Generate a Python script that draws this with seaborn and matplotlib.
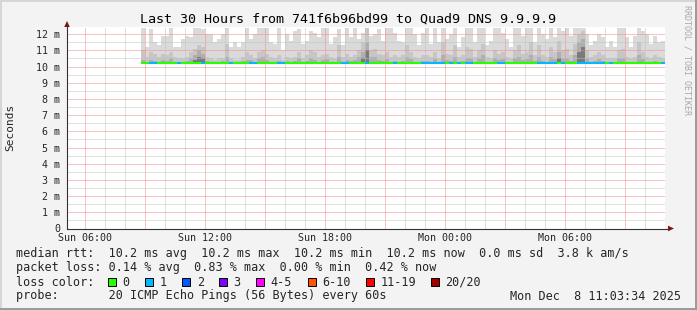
import matplotlib
matplotlib.use("Agg")
import matplotlib.pyplot as plt
from matplotlib.patches import Rectangle, Polygon
from matplotlib.lines import Line2D
import numpy as np
import pandas as pd
import seaborn as sns

# ---------------- data ----------------
title = "Last 30 Hours from 741f6b96bd99 to Quad9 DNS 9.9.9.9"
first_bin_hour = 8.8      # hours after Sun 00:00 of the first 12-minute bin
bin_hours = 0.2           # 12-minute consolidation
x_tick_hours = [6, 12, 18, 24, 30]
x_tick_labels = ["Sun 06:00", "Sun 12:00", "Sun 18:00", "Mon 00:00", "Mon 06:00"]
y_tick_ms = list(range(13))
y_tick_labels = ["0"] + [f"{v} m" for v in range(1, 13)]

# smoke layer tops (ms): outermost (lightest) to innermost (darkest)
top1 = [12.4, 11.2, 12.3, 11.5, 11.3, 11.9, 11.9, 12.4, 11.2, 11.2,
        11.7, 11.9, 11.8, 12.4, 12.4, 12.3, 12.0, 12.0, 11.5, 11.7,
        12.0, 12.4, 11.2, 11.5, 11.2, 11.5, 12.4, 11.7, 12.0, 12.4,
        12.4, 12.4, 11.5, 11.4, 12.4, 11.0, 12.0, 11.6, 12.2, 12.3,
        11.4, 11.6, 12.2, 12.1, 11.8, 12.4, 12.4, 11.4, 11.8, 12.3,
        11.3, 12.4, 11.8, 12.4, 11.7, 12.1, 12.4, 11.9, 12.0, 12.3,
        11.6, 12.4, 12.4, 12.1, 11.6, 11.5, 12.4, 12.4, 12.0, 11.3,
        12.1, 12.4, 11.4, 12.4, 11.5, 12.4, 11.7, 12.0, 12.4, 11.2,
        11.8, 12.4, 12.4, 11.5, 12.4, 12.4, 11.3, 11.6, 12.4, 12.4,
        12.1, 11.7, 11.2, 12.4, 12.4, 11.9, 12.4, 12.4, 11.5, 12.4,
        12.0, 11.7, 12.4, 11.8, 12.4, 12.2, 12.4, 11.9, 12.4, 12.4,
        12.4, 12.0, 11.3, 11.6, 12.0, 11.8, 11.2, 11.6, 11.2, 12.4,
        12.4, 11.8, 11.2, 11.9, 12.4, 12.2, 12.0, 11.4, 11.9, 11.5,
        11.6]
top2 = [11.0, 10.6, 10.9, 10.8, 10.6, 10.8, 10.7, 10.9, 10.6, 10.5,
        10.5, 10.6, 10.9, 11.1, 11.3, 11.2, 10.6, 10.5, 10.4, 10.5,
        10.5, 11.4, 10.5, 10.4, 10.4, 10.6, 10.9, 10.7, 10.5, 10.9,
        11.0, 10.8, 10.6, 10.5, 10.7, 10.4, 10.6, 10.5, 10.6, 10.9,
        10.5, 10.7, 11.0, 10.9, 10.6, 10.7, 10.8, 10.6, 10.5, 11.3,
        10.6, 10.8, 10.6, 10.7, 11.0, 11.5, 12.4, 11.0, 11.1, 10.8,
        10.7, 10.9, 10.6, 10.7, 10.6, 10.7, 11.3, 10.9, 10.6, 10.5,
        10.7, 10.7, 10.6, 10.9, 10.5, 11.5, 10.8, 10.7, 11.3, 10.6,
        10.7, 11.2, 11.1, 10.6, 11.0, 11.4, 10.6, 10.5, 11.0, 10.8,
        10.9, 10.6, 10.5, 11.0, 11.3, 10.8, 10.9, 11.5, 10.7, 11.3,
        10.7, 10.6, 11.2, 10.9, 11.6, 11.0, 11.1, 10.7, 11.4, 12.0,
        12.2, 11.0, 10.6, 10.7, 10.9, 10.7, 10.5, 10.5, 10.5, 11.0,
        11.1, 10.6, 10.5, 10.6, 11.5, 10.9, 10.6, 10.5, 10.7, 10.6,
        10.5]
top3 = [10.4, 10.3, 10.4, 10.35, 10.3, 10.4, 10.35, 10.5, 10.3, 10.3,
        10.3, 10.35, 10.5, 10.7, 11.0, 10.8, 10.35, 10.3, 10.3, 10.3,
        10.35, 10.6, 10.3, 10.3, 10.3, 10.35, 10.4, 10.4, 10.3, 10.5,
        10.6, 10.4, 10.3, 10.3, 10.35, 10.3, 10.35, 10.3, 10.35, 10.5,
        10.3, 10.35, 10.5, 10.4, 10.3, 10.4, 10.45, 10.3, 10.3, 10.6,
        10.3, 10.4, 10.35, 10.4, 10.6, 10.9, 11.5, 10.6, 10.6, 10.4,
        10.35, 10.45, 10.3, 10.35, 10.3, 10.35, 10.6, 10.45, 10.3, 10.3,
        10.35, 10.35, 10.3, 10.45, 10.3, 10.7, 10.4, 10.35, 10.6, 10.3,
        10.35, 10.5, 10.5, 10.3, 10.5, 10.7, 10.3, 10.3, 10.5, 10.4,
        10.45, 10.3, 10.3, 10.5, 10.6, 10.4, 10.45, 10.7, 10.35, 10.6,
        10.35, 10.3, 10.6, 10.45, 10.9, 10.5, 10.5, 10.35, 10.7, 11.5,
        11.7, 10.5, 10.3, 10.35, 10.45, 10.35, 10.3, 10.3, 10.3, 10.5,
        10.55, 10.3, 10.3, 10.3, 10.7, 10.45, 10.3, 10.3, 10.35, 10.3,
        10.3]
top4 = [10.2, 10.2, 10.2, 10.2, 10.2, 10.2, 10.2, 10.2, 10.2, 10.2,
        10.2, 10.2, 10.2, 10.4, 10.6, 10.5, 10.2, 10.2, 10.2, 10.2,
        10.2, 10.3, 10.2, 10.2, 10.2, 10.2, 10.2, 10.2, 10.2, 10.2,
        10.2, 10.2, 10.2, 10.2, 10.2, 10.2, 10.2, 10.2, 10.2, 10.2,
        10.2, 10.2, 10.2, 10.2, 10.2, 10.2, 10.2, 10.2, 10.2, 10.2,
        10.2, 10.2, 10.2, 10.2, 10.2, 10.5, 11.0, 10.3, 10.2, 10.2,
        10.2, 10.2, 10.2, 10.2, 10.2, 10.2, 10.2, 10.2, 10.2, 10.2,
        10.2, 10.2, 10.2, 10.2, 10.2, 10.3, 10.2, 10.2, 10.2, 10.2,
        10.2, 10.2, 10.2, 10.2, 10.2, 10.3, 10.2, 10.2, 10.2, 10.2,
        10.2, 10.2, 10.2, 10.2, 10.2, 10.2, 10.2, 10.3, 10.2, 10.2,
        10.2, 10.2, 10.2, 10.2, 10.5, 10.2, 10.2, 10.2, 10.2, 10.9,
        11.2, 10.3, 10.2, 10.2, 10.2, 10.2, 10.2, 10.2, 10.2, 10.2,
        10.2, 10.2, 10.2, 10.2, 10.2, 10.2, 10.2, 10.2, 10.2, 10.2,
        10.2]
median_ms = [10.2, 10.2, 10.2, 10.2, 10.2, 10.2, 10.2, 10.2, 10.2, 10.2,
             10.2, 10.2, 10.2, 10.2, 10.2, 10.2, 10.2, 10.2, 10.2, 10.2,
             10.2, 10.2, 10.2, 10.2, 10.2, 10.2, 10.2, 10.2, 10.2, 10.2,
             10.2, 10.2, 10.2, 10.2, 10.2, 10.2, 10.2, 10.2, 10.2, 10.2,
             10.2, 10.2, 10.2, 10.2, 10.2, 10.2, 10.2, 10.2, 10.2, 10.2,
             10.2, 10.2, 10.2, 10.2, 10.2, 10.2, 10.2, 10.2, 10.2, 10.2,
             10.2, 10.2, 10.2, 10.2, 10.2, 10.2, 10.2, 10.2, 10.2, 10.2,
             10.2, 10.2, 10.2, 10.2, 10.2, 10.2, 10.2, 10.2, 10.2, 10.2,
             10.2, 10.2, 10.2, 10.2, 10.2, 10.2, 10.2, 10.2, 10.2, 10.2,
             10.2, 10.2, 10.2, 10.2, 10.2, 10.2, 10.2, 10.2, 10.2, 10.2,
             10.2, 10.2, 10.2, 10.2, 10.2, 10.2, 10.2, 10.2, 10.2, 10.2,
             10.2, 10.2, 10.2, 10.2, 10.2, 10.2, 10.2, 10.2, 10.2, 10.2,
             10.2, 10.2, 10.2, 10.2, 10.2, 10.2, 10.2, 10.2, 10.2, 10.2,
             10.2]
loss = [0, 0, 1, 1, 0, 0, 0, 0, 0, 1,
        0, 0, 0, 0, 0, 1, 0, 0, 0, 0,
        0, 0, 1, 0, 0, 0, 0, 1, 1, 0,
        0, 0, 0, 0, 1, 1, 0, 0, 0, 0,
        0, 0, 0, 0, 0, 0, 0, 0, 0, 0,
        1, 1, 0, 0, 0, 0, 1, 0, 0, 0,
        0, 0, 0, 1, 0, 0, 0, 0, 0, 0,
        1, 1, 1, 1, 1, 1, 0, 1, 0, 1,
        0, 1, 1, 0, 0, 0, 0, 0, 0, 1,
        1, 0, 0, 0, 0, 0, 0, 0, 0, 1,
        1, 1, 1, 1, 0, 1, 0, 0, 0, 1,
        1, 1, 1, 1, 1, 1, 0, 1, 0, 0,
        0, 0, 0, 0, 0, 0, 0, 0, 0, 0,
        1]

loss_labels = ["0", "1", "2", "3", "4-5", "6-10", "11-19", "20/20"]
loss_colors = ["#26ff00", "#00b8ff", "#0059ff", "#7e00ff", "#ff00ff",
               "#ff5500", "#ff0000", "#a00000"]
smoke_colors = ["#dadada", "#c6c6c6", "#aeaeae", "#7a7a7a"]

stats_rtt = "median rtt:  10.2 ms avg  10.2 ms max  10.2 ms min  10.2 ms now  0.0 ms sd  3.8 k am/s"
stats_loss = "packet loss: 0.14 % avg  0.83 % max  0.00 % min  0.42 % now"
probe_text = "probe:       20 ICMP Echo Pings (56 Bytes) every 60s"
stamp_text = "Mon Dec  8 11:03:34 2025"

# ---------------- figure ----------------
W, H = 697, 310
sns.set_theme(style="white")
plt.rcParams["font.family"] = ["DejaVu Sans Mono", "DejaVu Sans"]


def fx(x):
    return x / W


def fy(y):
    return 1 - y / H


fig = plt.figure(figsize=(W / 100, H / 100), dpi=100, facecolor="#f3f3f3")
ax = fig.add_axes([fx(67), fy(228.5), (665 - 67) / W, (228.5 - 27) / H])
ax.set_facecolor("white")

n = len(top1)
t = first_bin_hour + bin_hours * np.arange(n)
med = np.array(median_ms)

for tops, col in zip([top1, top2, top3, top4], smoke_colors):
    h = np.array(tops) - med
    ax.bar(t, h, bottom=med, width=bin_hours, align="edge", color=col,
           linewidth=0, antialiased=False, zorder=1)

# median line coloured by loss
rows = []
for i in range(n):
    rows.append({"t": t[i], "median": med[i], "loss": loss[i], "col": i})
    rows.append({"t": t[i] + bin_hours, "median": med[i], "loss": loss[i], "col": i})
df = pd.DataFrame(rows)
sns.lineplot(data=df, x="t", y="median", hue="loss", units="col",
             estimator=None, palette={0: loss_colors[0], 1: loss_colors[1]},
             linewidth=1.5, legend=False, ax=ax, zorder=3)
for ln in ax.lines:
    ln.set_solid_capstyle("butt")
ax.set_xlabel("")
ax.set_ylabel("")

ax.set_xlim(5.1, 35.0)
ax.set_ylim(0, 12.44)

major_x = list(range(6, 35, 3))
ax.set_xticks(major_x)
ax.set_xticklabels([x_tick_labels[x_tick_hours.index(h)] if h in x_tick_hours else ""
                    for h in major_x], fontsize=7.2)
ax.set_xticks(list(range(6, 36)), minor=True)
ax.set_yticks(y_tick_ms)
ax.set_yticklabels(y_tick_labels, fontsize=7.2)
ax.set_yticks([v + 0.5 for v in range(12)], minor=True)
ax.tick_params(which="both", length=0)
ax.tick_params(axis="x", pad=3.2)
ax.tick_params(axis="y", pad=5.0)

ax.set_axisbelow(False)
ax.grid(which="major", color="#f08a8a", linestyle=(0, (1, 1)), linewidth=0.72)
ax.grid(which="minor", color="#c2c2c2", linestyle=(0, (1, 1)), linewidth=0.72)

for s in ["top", "right"]:
    ax.spines[s].set_visible(False)
for s in ["left", "bottom"]:
    ax.spines[s].set_color("#333333")
    ax.spines[s].set_linewidth(0.8)
    ax.spines[s].set_zorder(4)

# axis extension + arrows
fig.add_artist(Line2D([fx(665), fx(669)], [fy(228.5), fy(228.5)], color="#333333", lw=0.8))
fig.add_artist(Line2D([fx(67), fx(67)], [fy(27), fy(24)], color="#333333", lw=0.8))
fig.add_artist(Polygon([(fx(64.2), fy(27)), (fx(69.8), fy(27)), (fx(67), fy(21))],
                       closed=True, transform=fig.transFigure, color="#8b1010", lw=0))
fig.add_artist(Polygon([(fx(668), fy(225.7)), (fx(668), fy(231.3)), (fx(674), fy(228.5))],
                       closed=True, transform=fig.transFigure, color="#8b1010", lw=0))

# title, labels
fig.text(fx(348), fy(19), title, ha="center", va="center", fontsize=9.6, color="black")
fig.text(fx(10), fy(127), "Seconds", rotation=90, ha="center", va="center", fontsize=8)
fig.text(fx(687), fy(5), "RRDTOOL / TOBI OETIKER", rotation=270, ha="center", va="top",
         fontsize=6, color="#a8a8a8")

# legend text
fs = 8.5
fig.text(fx(16), fy(254), stats_rtt, ha="left", va="center", fontsize=fs)
fig.text(fx(16), fy(268), stats_loss, ha="left", va="center", fontsize=fs)
fig.text(fx(16), fy(282), "loss color:", ha="left", va="center", fontsize=fs)
fig.text(fx(16), fy(296), probe_text, ha="left", va="center", fontsize=fs)
fig.text(fx(681), fy(296), stamp_text, ha="right", va="center", fontsize=fs)

sq_x = [108, 145.3, 182.3, 219, 256, 307.5, 365.7, 430.7]
for xs, lab, col in zip(sq_x, loss_labels, loss_colors):
    fig.add_artist(Rectangle((fx(xs), fy(285.5)), 8 / W, 8 / H, transform=fig.transFigure,
                             facecolor=col, edgecolor="black", lw=0.7))
    fig.text(fx(xs + 14.5), fy(282), lab, ha="left", va="center", fontsize=fs)

# canvas frame
fig.add_artist(Rectangle((0, fy(2)), 1, 2 / H, transform=fig.transFigure, color="#d6d6d6", lw=0))
fig.add_artist(Rectangle((0, 0), 2 / W, 1, transform=fig.transFigure, color="#d6d6d6", lw=0))
fig.add_artist(Rectangle((0, 0), 1, 2 / H, transform=fig.transFigure, color="#9c9c9c", lw=0))
fig.add_artist(Rectangle((fx(695), 0), 2 / W, 1, transform=fig.transFigure, color="#9c9c9c", lw=0))

fig.savefig("out.png", dpi=100, facecolor=fig.get_facecolor())
